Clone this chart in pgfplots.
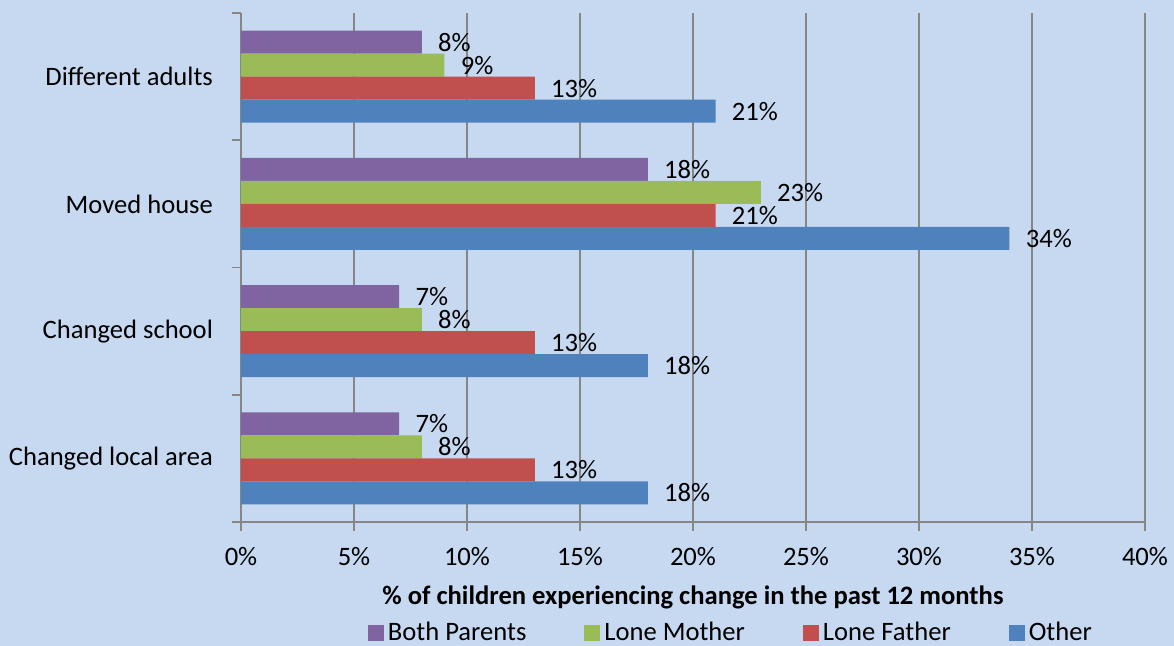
\documentclass[border=0pt]{standalone}
\usepackage{fontspec}
\setmainfont{Carlito}
\usepackage{pgfplots}
\pgfplotsset{compat=1.18}
\definecolor{bg}{HTML}{C6D9F1}
\definecolor{cpur}{HTML}{8064A2}
\definecolor{cgrn}{HTML}{9BBB59}
\definecolor{cred}{HTML}{C0504D}
\definecolor{cblu}{HTML}{4F81BD}
\definecolor{gr}{HTML}{868686}
\newcommand{\cf}{\fontsize{13.3}{16}\selectfont}
\begin{document}
\begin{tikzpicture}
\fill[bg] (0,0) rectangle (587pt,323pt);
\begin{axis}[
  at={(120.5pt,62pt)}, anchor=south west,
  scale only axis, width=452pt, height=254.5pt,
  xbar, bar width=0.181,
  xmin=0, xmax=40, ymin=-0.5, ymax=3.5,
  axis x line*=bottom, axis y line*=left,
  axis line style={gr, line width=0.9pt},
  every tick/.style={gr, line width=0.9pt},
  tick align=outside,
  major tick length=4.5pt, minor tick length=4.5pt,
  xtick={0,5,...,40},
  xticklabel={\pgfmathprintnumber{\tick}\%},
  /pgf/number format/assume math mode=true,
  xmajorgrids=true,
  grid style={gr, line width=0.9pt},
  ytick={0,1,2,3},
  yticklabels={Changed local area, Changed school, Moved house, Different adults},
  minor ytick={-0.5,0.5,1.5,2.5,3.5},
  major y tick style={draw=none},
  tick label style={font=\cf, text=black},
  x tick label style={yshift=-4.5pt},
  y tick label style={xshift=-6pt},
  xlabel={\bfseries \% of children experiencing change in the past 12 months},
  x label style={font=\cf, at={(axis description cs:0.5,0)}, anchor=center, yshift=-37.5pt},
  nodes near coords={\pgfmathprintnumber{\pgfplotspointmeta}\%},
  nodes near coords style={font=\cf, anchor=west, inner sep=0pt, xshift=8pt, text=black},
  legend columns=4,
  legend style={font=\cf, draw=none, fill=none, at={(0.543,0)}, anchor=center, yshift=-55.5pt,
    /tikz/every even column/.append style={column sep=27pt}},
  legend image code/.code={\fill[#1] (0pt,-4pt) rectangle (8pt,4pt);},
]
\addplot[fill=cpur, draw=none, bar shift=0.2717] coordinates {(7,0) (7,1) (18,2) (8,3)};
\addplot[fill=cgrn, draw=none, bar shift=0.0906] coordinates {(8,0) (8,1) (23,2) (9,3)};
\addplot[fill=cred, draw=none, bar shift=-0.0906] coordinates {(13,0) (13,1) (21,2) (13,3)};
\addplot[fill=cblu, draw=none, bar shift=-0.2717] coordinates {(18,0) (18,1) (34,2) (21,3)};
\legend{Both Parents, Lone Mother, Lone Father, Other}
\end{axis}
\pgfresetboundingbox
\useasboundingbox (0,0) rectangle (587pt,323pt);
\end{tikzpicture}
\end{document}
